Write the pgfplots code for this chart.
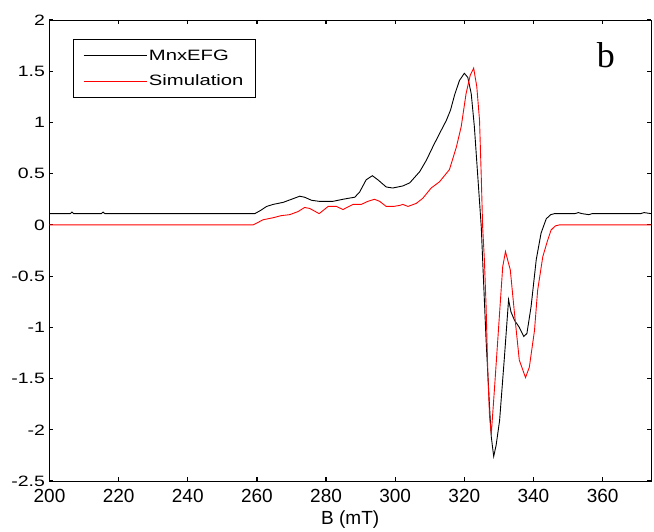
\documentclass[border=0pt]{standalone}
\usepackage{fontspec}
\setmainfont{Liberation Sans}
\newfontfamily\widesans{Liberation Sans}[FakeStretch=1.3]
\newfontfamily\widersans{Liberation Sans}[FakeStretch=1.35]
\newfontfamily\serifb{Liberation Serif}
\usepackage{pgfplots}
\pgfplotsset{compat=1.18}
\begin{document}
\begin{tikzpicture}
\begin{axis}[
 scale only axis, width=601.5pt, height=461pt,
 xmin=200, xmax=374, ymin=-2.5, ymax=2,
 xtick={200,220,240,260,280,300,320,340,360},
 ytick={-2.5,-2,-1.5,-1,-0.5,0,0.5,1,1.5,2},
 tick align=inside, major tick length=4pt,
 tick style={black, line width=1.2pt},
 axis line style={black, line width=0.8pt},
 /pgf/number format/assume math mode=true,
 yticklabel style={font=\widesans\fontsize{15}{18}\selectfont, xshift=-1pt},
 xticklabel style={font=\fontsize{19}{22}\selectfont, yshift=-5pt},
 xlabel={B (mT)},
 xlabel style={font=\fontsize{19}{22}\selectfont, yshift=-1pt},
 legend style={at={(0.0386,0.9588)}, anchor=north west, draw=black, line width=0.7pt,
   font=\widersans\fontsize{15}{18}\selectfont, inner xsep=10pt, inner ysep=8.5pt, row sep=9pt,
   cells={anchor=west}},
 legend image code/.code={\draw[#1] (0pt,0pt) -- (63pt,0pt);},
]
\addplot[black, line width=0.9pt] coordinates {
(200,0.11) (205,0.11) (206,0.11) (206.5,0.125) (207,0.11) (215,0.11) (215.5,0.125) (216,0.11)
(258,0.11) (259.4,0.11) (261,0.14) (262.8,0.18) (264.7,0.20) (267.6,0.22) (270,0.25)
(272.4,0.28) (273.8,0.27) (275.8,0.24) (278,0.23) (282,0.23) (284.9,0.25) (286.5,0.26)
(288.3,0.27) (289.7,0.32) (291.6,0.44) (293.4,0.48) (295,0.44) (297.4,0.37) (299.3,0.36)
(302.2,0.38) (304.2,0.41) (307.1,0.52) (309,0.63) (311,0.77) (312.8,0.89) (314.8,1.02)
(316,1.12) (317.2,1.27) (318.6,1.41) (320,1.48) (321,1.44) (322,1.28) (322.9,0.96)
(323.9,0.47) (324.9,-0.02) (325.4,-0.42) (326.3,-1.13) (327.3,-1.78) (327.8,-2.07)
(328.5,-2.26) (329.2,-2.15) (330.2,-1.91) (331.6,-1.29) (332.8,-0.73) (333.5,-0.85)
(334.5,-0.93) (335.9,-1.00) (337.2,-1.09) (338.1,-1.06) (339.3,-0.80) (340.8,-0.34)
(342.2,-0.08) (343.7,0.06) (345,0.10) (346.1,0.11) (352,0.11) (353,0.12) (354,0.11)
(356,0.10) (357,0.11) (371,0.11) (372,0.12) (374,0.11)
};
\addlegendentry{MnxEFG}
\addplot[red, line width=0.9pt] coordinates {
(200,0) (258,0) (258.9,0) (261.8,0.05) (264.7,0.07) (267,0.09) (269.5,0.10) (271.9,0.13)
(273.8,0.17) (275.3,0.16) (278,0.11) (280.6,0.18) (283,0.18) (284.9,0.15) (287.8,0.20)
(290.2,0.20) (292.1,0.23) (294,0.25) (295.5,0.23) (297.4,0.18) (299.5,0.18) (301.3,0.19)
(302.2,0.20) (303.7,0.18) (306.1,0.21) (308,0.26) (310.4,0.36) (312.8,0.42) (315.7,0.54)
(317.7,0.76) (319.1,0.96) (320.5,1.28) (321.7,1.46) (322.7,1.53) (323.6,1.35) (324.4,1.02)
(324.9,0.47) (325.3,-0.02) (325.8,-0.34) (326.3,-0.80) (326.8,-1.45) (327.3,-1.87)
(327.8,-2.04) (328.7,-1.61) (330,-0.96) (331.1,-0.41) (331.9,-0.26) (333.3,-0.44)
(334.5,-0.86) (335.9,-1.32) (337.7,-1.49) (338.8,-1.39) (340.3,-1.03) (341.2,-0.64)
(342.7,-0.31) (344.1,-0.15) (345.1,-0.05) (346.3,-0.01) (347.5,0) (374,0)
};
\addlegendentry{Simulation}
\node[font=\serifb\fontsize{36}{40}\selectfont, anchor=base] at (rel axis cs:0.925,0.896) {b};
\coordinate (sw) at (rel axis cs:0,0);
\coordinate (ne) at (rel axis cs:1,1);
\end{axis}
\path ([shift={(-49.5pt,-50pt)}]sw) rectangle ([shift={(3pt,20pt)}]ne);
\end{tikzpicture}
\end{document}
